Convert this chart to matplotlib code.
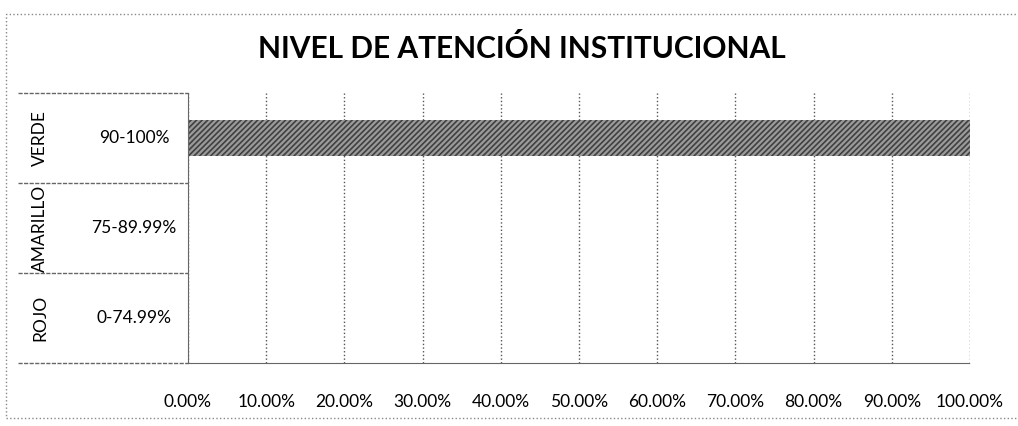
import numpy as np
import matplotlib.pyplot as plt
from matplotlib.patches import Rectangle

plt.rcParams['font.family'] = ['Lato', 'DejaVu Sans']

# data
grupos = ["VERDE", "AMARILLO", "ROJO"]
rangos = ["90-100%", "75-89.99%", "0-74.99%"]
valores = [1.0, 0.0, 0.0]
ticks = np.arange(0, 1.01, 0.1)
tick_labels = ["%.2f%%" % (t * 100) for t in ticks]

fig = plt.figure(figsize=(10.18, 4.26), dpi=100)
ax = fig.add_axes([188 / 1018, 1 - 363 / 426, (970 - 188) / 1018, (363 - 93) / 426])

y = np.arange(len(grupos))[::-1]
plt.rcParams['hatch.linewidth'] = 1.2
ax.barh(y, valores, height=0.41, color="#9a9a9a", edgecolor="#404040",
        hatch="//////", linewidth=0)
ax.set_xlim(0, 1)
ax.set_ylim(-0.5, len(grupos) - 0.5)
ax.set_xticks(ticks)
ax.set_xticklabels(tick_labels, fontsize=12.5)
ax.set_yticks([])
ax.tick_params(axis="x", length=0, pad=22)
ax.grid(axis="x", linestyle=":", color="#555555", linewidth=1)
ax.set_axisbelow(True)
for s in ["top", "right"]:
    ax.spines[s].set_visible(False)
ax.spines["left"].set_color("#666666")
ax.spines["bottom"].set_color("#666666")
ax.spines["bottom"].set_linestyle((0, (3, 1)))
ax.spines["left"].set_linestyle((0, (3, 1)))

# left table with group names and ranges
trans = ax.get_yaxis_transform()
x0 = (18 - 188) / (970 - 188)
for i, (g, r) in enumerate(zip(grupos, rangos)):
    yc = y[i]
    ax.text((134 - 188) / (970 - 188), yc, r, transform=trans, ha="center",
            va="center", fontsize=12.5)
    ax.text((40 - 188) / (970 - 188), yc, g, transform=trans, ha="center",
            va="center", rotation=90, fontsize=12.5)
for yl in [-0.5, 0.5, 1.5, 2.5]:
    ax.plot([x0, 0], [yl, yl], transform=trans, color="#666666",
            linewidth=1, linestyle=(0, (3, 1)), clip_on=False)

fig.text(0.5125, 1 - 48 / 426, "NIVEL DE ATENCIÓN INSTITUCIONAL", ha="center",
         va="center", fontsize=21.5, fontweight="bold")

# outer border of the chart
fig.patches.append(Rectangle((6 / 1018, 8 / 426), 1.0, 404 / 426,
                             transform=fig.transFigure, fill=False,
                             edgecolor="#888888", linestyle=":", linewidth=1))

fig.savefig("out.png", dpi=100)
